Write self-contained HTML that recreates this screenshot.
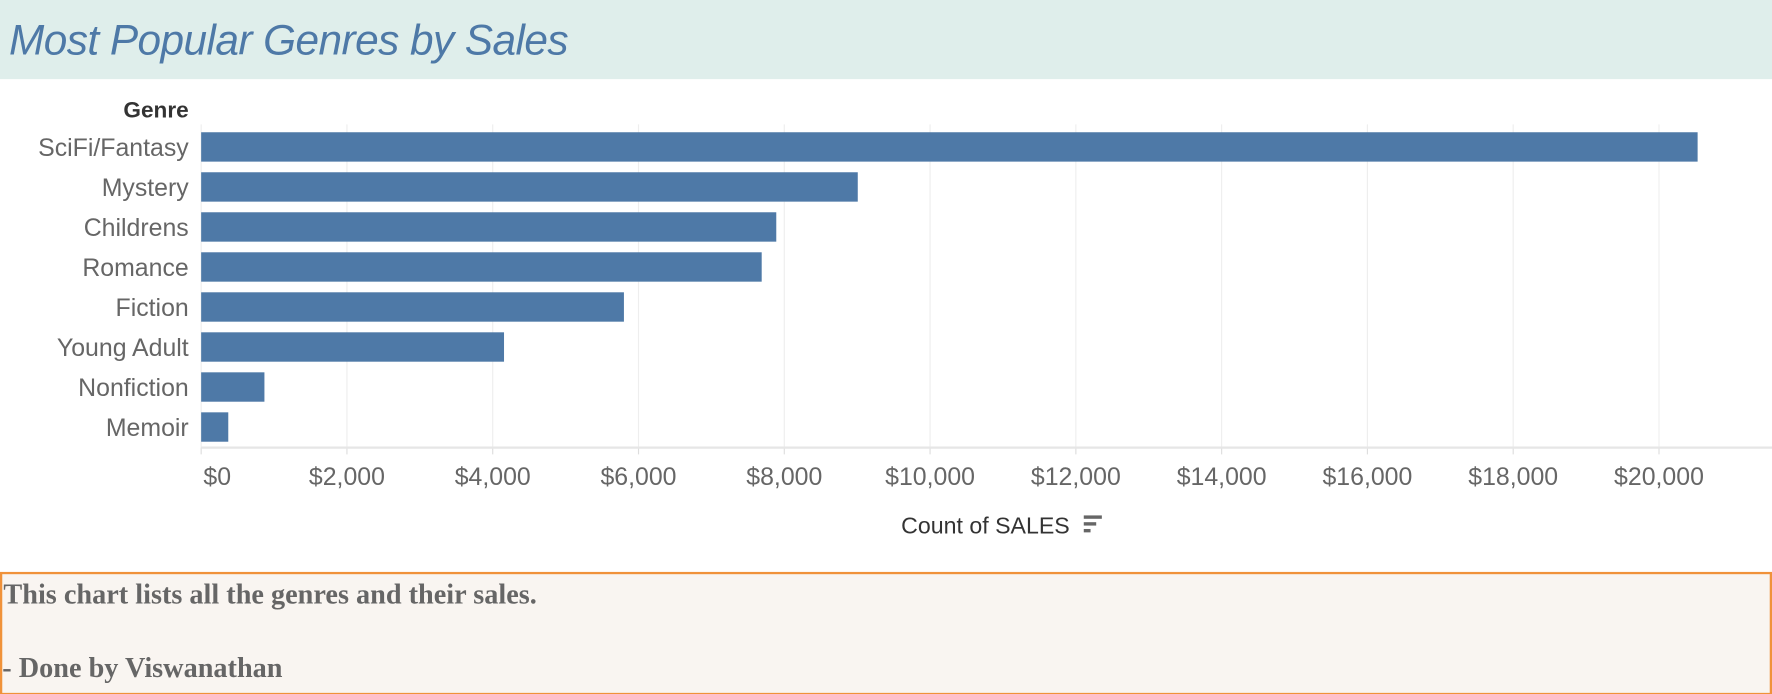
<!DOCTYPE html>
<html><head><meta charset="utf-8"><style>
html,body{margin:0;padding:0;width:1772px;height:694px;overflow:hidden;background:#fff}
#wrap{width:1568px;height:614px;position:relative;transform:scale(1.13010,1.13029);transform-origin:0 0;font-family:"Liberation Sans",sans-serif}
#hdr{position:absolute;left:0;top:0;width:1568px;height:70px;background:#dfeeeb}
#title{position:absolute;left:8px;top:14px;font-size:37.5px;font-style:italic;color:#4e79a7;letter-spacing:-0.5px}
#note{position:absolute;left:0;top:506px;width:1564px;height:105px;border:2px solid #f0923a;background:#f9f5f1;font-family:"Liberation Serif",serif;font-weight:bold;color:#666;font-size:25px}
</style></head><body>
<div id="wrap">
<div id="hdr"><div id="title">Most Popular Genres by Sales</div></div>
<svg id="chart" width="1568" height="500" style="position:absolute;left:0;top:0"></svg>
<div id="note">
<div style="position:absolute;left:1px;top:5px">This chart lists all the genres and their sales.</div>
<div style="position:absolute;left:0;top:70px">- Done by Viswanathan</div>
</div>
</div>
<script>
const categories=["SciFi/Fantasy","Mystery","Childrens","Romance","Fiction","Young Adult","Nonfiction","Memoir"];
const sales=[20530,9008,7890,7690,5800,4155,868,372];
const ticks=[0,2000,4000,6000,8000,10000,12000,14000,16000,18000,20000];
const tickLabels=["$0","$2,000","$4,000","$6,000","$8,000","$10,000","$12,000","$14,000","$16,000","$18,000","$20,000"];
const svg=document.getElementById('chart');const NS="http://www.w3.org/2000/svg";
const x=v=>178+v*0.0645;
const y=i=>130+i*35.4;
function mk(t,a,txt){const e=document.createElementNS(NS,t);for(const k in a)e.setAttribute(k,a[k]);if(txt!=null)e.textContent=txt;svg.appendChild(e);return e;}
ticks.forEach((t,i)=>{
 const g=mk('line',{x1:x(t),x2:x(t),y1:110,y2:396,stroke:'#eeeeee','stroke-width':1});
 
 
 const tk=mk('line',{x1:x(t),x2:x(t),y1:396,y2:402,stroke:'#ddd'});
 
 
 const l=mk('text',{x:i===0?x(t)+2:x(t),y:429,'text-anchor':i===0?'start':'middle','font-size':22,fill:'#666'},tickLabels[i]);
 
 
});
const ax=mk('line',{x1:178,x2:1568,y1:396,y2:396,stroke:'#e6e6e6','stroke-width':2});


categories.forEach((c,i)=>{
 const r=mk('rect',{x:x(0),y:y(i)-13,width:x(sales[i])-x(0),height:26,fill:'#4e79a7'});
 
 
 const t=mk('text',{x:167,y:y(i)+8,'text-anchor':'end','font-size':22,fill:'#666'},c);
 
 
});
const gt=mk('text',{x:167,y:104,'text-anchor':'end','font-size':20,'font-weight':'bold',fill:'#333'},'Genre');


const xt=mk('text',{x:872,y:472,'text-anchor':'middle','font-size':20.5,fill:'#333'},'Count of SALES');


const si=mk('g',{});


[[16,456],[11,462],[6,468]].forEach(([w,yy])=>{const b=document.createElementNS(NS,'rect');b.setAttribute('x',959);b.setAttribute('y',yy);b.setAttribute('width',w);b.setAttribute('height',3);b.setAttribute('fill','#666');si.appendChild(b);});
svg.appendChild(si);
</script>
</body></html>
